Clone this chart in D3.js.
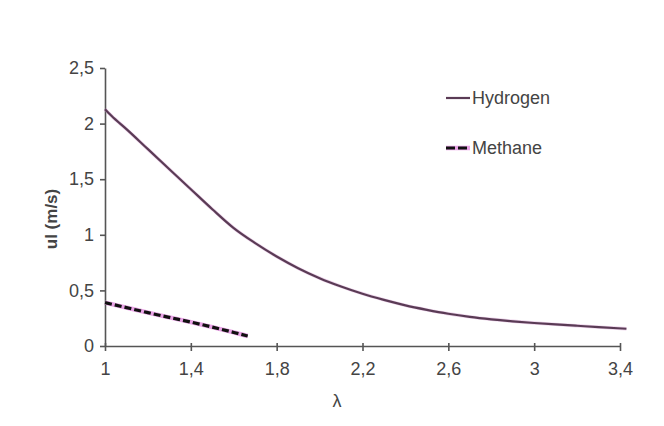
<!DOCTYPE html>
<html>
<head>
<meta charset="utf-8">
<script src="https://cdn.jsdelivr.net/npm/d3@7/dist/d3.min.js"></script>
<style>
html,body{margin:0;padding:0;background:#fff;}
svg{display:block;}
text{font-family:"Liberation Sans",Arial,sans-serif;}
</style>
</head>
<body>
<svg id="chart" width="664" height="426"></svg>
<script>
// Data
const hydrogenLambda = [1.00,1.03,1.1,1.2,1.3,1.4,1.5,1.6,1.7,1.8,1.9,2.0,2.1,2.2,2.3,2.4,2.5,2.6,2.7,2.8,2.9,3.0,3.1,3.2,3.3,3.43];
const hydrogenUl     = [2.13,2.07,1.95,1.77,1.59,1.41,1.23,1.06,0.925,0.805,0.70,0.61,0.535,0.47,0.415,0.365,0.325,0.29,0.262,0.24,0.222,0.207,0.194,0.182,0.17,0.155];
const methaneLambda  = [1.0,1.1,1.2,1.3,1.4,1.5,1.6,1.665];
const methaneUl      = [0.39,0.345,0.30,0.257,0.215,0.17,0.122,0.09];
const xTicks = [1,1.4,1.8,2.2,2.6,3,3.4];
const yTicks = [0,0.5,1,1.5,2,2.5];
const seriesNames = ["Hydrogen","Methane"];

const svg = d3.select("#chart");
const x = d3.scaleLinear().domain([1,3.4]).range([105,620]);
const y = d3.scaleLinear().domain([0,2.5]).range([346,68]);
const fmt = d => String(d).replace(".", ",");
const axisColor = "#555";
const textColor = "#444";

// axes
const gx = svg.append("g").attr("transform","translate(0,346)")
  .call(d3.axisBottom(x).tickValues(xTicks).tickFormat(fmt).tickSize(5).tickPadding(11).tickSizeOuter(0));
const gy = svg.append("g").attr("transform","translate(105,0)")
  .call(d3.axisLeft(y).tickValues(yTicks).tickFormat(fmt).tickSize(5).tickPadding(6).tickSizeOuter(0));
[gx,gy].forEach(g=>{
  g.select(".domain").attr("stroke",axisColor).attr("stroke-width",1.6);
  g.selectAll(".tick line").attr("stroke",axisColor).attr("stroke-width",1.6);
  g.selectAll(".tick text").attr("fill",textColor).style("font-size","18px");
});
gx.selectAll(".tick line").attr("y1",-3);
gy.selectAll(".tick line").attr("x2",0).attr("x1",-5);

// titles
svg.append("text").attr("x",337).attr("y",407).attr("text-anchor","middle")
  .attr("fill",textColor).style("font-size","18px").text("λ");
svg.append("text").attr("transform","translate(57,219) rotate(-90)").attr("text-anchor","middle")
  .attr("fill",textColor).style("font-size","17px").style("font-weight","bold").text("ul (m/s)");

// lines
const line = d3.line().x(d=>x(d[0])).y(d=>y(d[1])).curve(d3.curveMonotoneX);
const hData = hydrogenLambda.map((l,i)=>[l,hydrogenUl[i]]);
const mData = methaneLambda.map((l,i)=>[l,methaneUl[i]]);
const hColor = "#5a3b55";

svg.append("path").datum(hData).attr("d",line).attr("fill","none")
  .attr("stroke","#d9a6d6").attr("stroke-width",3.4).attr("opacity",0.5);
svg.append("path").datum(hData).attr("d",line).attr("fill","none")
  .attr("stroke",hColor).attr("stroke-width",2.2);

svg.append("path").datum(mData).attr("d",line).attr("fill","none")
  .attr("stroke","#e9a3e6").attr("stroke-width",4.5);
svg.append("path").datum(mData).attr("d",line).attr("fill","none")
  .attr("stroke","#111").attr("stroke-width",3.2).attr("stroke-dasharray","7,3");

// legend
const leg = svg.append("g");
const legY = [98,148];
leg.append("line").attr("x1",446).attr("x2",470).attr("y1",legY[0]).attr("y2",legY[0])
  .attr("stroke",hColor).attr("stroke-width",2.2);
leg.append("line").attr("x1",446).attr("x2",470).attr("y1",legY[1]).attr("y2",legY[1])
  .attr("stroke","#e9a3e6").attr("stroke-width",4.5);
leg.append("line").attr("x1",446).attr("x2",470).attr("y1",legY[1]).attr("y2",legY[1])
  .attr("stroke","#111").attr("stroke-width",3.2).attr("stroke-dasharray","9,3");
seriesNames.forEach((n,i)=>{
  leg.append("text").attr("x",472).attr("y",legY[i]).attr("dy","0.36em")
    .attr("fill",textColor).style("font-size","18px").text(n);
});
</script>
</body>
</html>
